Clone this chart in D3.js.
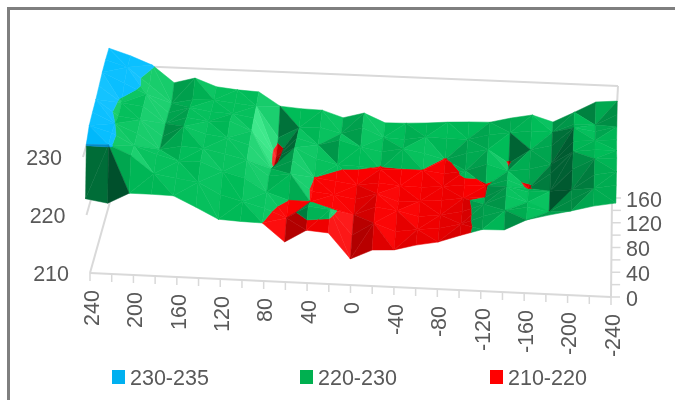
<!DOCTYPE html>
<html><head><meta charset="utf-8">
<script src="https://cdn.jsdelivr.net/npm/d3@7"></script>
<style>html,body{margin:0;padding:0;background:#fff}svg{display:block;filter:blur(0.45px)}text{font-family:"Liberation Sans",Arial,sans-serif;fill:#595959}</style>
</head><body><svg id="c" width="675" height="400"></svg>
<script>
// X categories (one surface column each), Y categories (position along each column)
const xCategories = d3.range(240, -241, -20);
const yCategories = d3.range(0, 161, 20);
const xTickLabels = [240,200,160,120,80,40,0,-40,-80,-120,-160,-200,-240];
const yTickLabels = [0,40,80,120,160];
const zTickLabels = [210,220,230];
const bands = ["210-220","220-230","230-235"];
// surface heights: one array per x category, values for y = 0,20,...,160
const z240  = [222.8,230.2,231.5,231.8,232,232.4,232.8,233,233];
const z220  = [222.2,230.3,230.4,230.0,229.3,229.6,231,231.8,231.8];
const z200  = [224.1,228.6,228.3,228.4,228.8,229.1,229.2,228.8,230.3];
const z180  = [224.1,225.6,227,225.8,226,226.2,226.1,225.7,227.3];
const z160  = [224,225,226,226.5,228,227.5,227.2,226.5,228.3];
const z140  = [222.2,224.5,226,226.3,226.8,227,226.6,226.6,226.9];
const z120  = [220.3,222.5,224.5,225.5,226.3,227.2,226.4,226.2,226.5];
const z100  = [220.1,221.5,223.5,224.6,225.2,225.6,225.8,225.8,226.3];
const z80   = [220.0,220.5,221.2,222,221.2,219.4,218.9,220.4,223.9];
const z60   = [216.9,219,220,222.5,222.8,223,222.6,222.3,223.6];
const z40   = [219.1,221.2,219.9,219.6,220.0,221.2,221.5,222.5,223.5];
const z20   = [218.8,220.8,219,219.2,219.5,220.3,222.5,221.6,222.3];
const z0    = [214.5,216.5,218,218.6,219,220.2,221.5,222.8,223.3];
const zm20  = [216.2,218.8,219.5,219.7,219.5,219.8,220.8,221.2,221.7];
const zm40  = [216.4,217.5,219,218.5,219.2,219.95,221.5,221,221.8];
const zm60  = [217.4,218,218.2,218.8,219.1,219.95,220.8,221.6,222.0];
const zm80  = [218.1,218.4,218.6,219.1,219.4,219.5,219.9,221.5,222.3];
const zm100 = [219.4,219.3,219.4,219.6,219.8,220.2,221.2,221.5,222.5];
const zm120 = [220.6,220.8,220.8,219.95,219.8,221.5,222,222.5,222.6];
const zm140 = [220.7,222,222.5,222,221,220.5,219.7,223,223.5];
const zm160 = [222.6,222.7,221.5,221.2,219.7,221,222.3,223.5,224.2];
const zm180 = [223.6,222.1,219.8,221.5,222.5,222,223.2,223.4,223.1];
const zm200 = [224.5,224.3,224,225.5,226.5,226.2,226.5,225,225];
const zm220 = [225.5,226.5,226.8,227.5,227,226.5,226,225,227];
const zm240 = [226.2,227.2,227.5,227.8,227,226.8,227,227,227.3];
const surface = [z240,z220,z200,z180,z160,z140,z120,z100,z80,z60,z40,z20,z0,zm20,zm40,zm60,zm80,zm100,zm120,zm140,zm160,zm180,zm200,zm220,zm240];

const svg = d3.select("#c");
// 3D projection built from d3 scales
const uS = d3.scaleLinear().domain([240,-240]).range([0,1]);
const vS = d3.scaleLinear().domain([0,160]).range([0,1]);
const fx = d3.scaleLinear().domain([0,1]).range([90,611]);   // front floor edge x
const bx = d3.scaleLinear().domain([0,1]).range([117,612]);  // back floor edge x
const fy = d3.scaleLinear().domain([0,1]).range([273,297]);
const by = d3.scaleLinear().domain([0,1]).range([177,198]);
const kS = d3.scaleLinear().domain([0,1]).range([5.8,5.6]);
const leanS = d3.scaleLinear().domain([0,1]).range([-0.35,0.3]);
function project(x,y,z){
  const u=uS(x), v=vS(y), h=z-210;
  return [fx(u)*(1-v)+bx(u)*v+leanS(u)*h, fy(u)*(1-v)+by(u)*v-kS(v)*h];
}
const line = d3.line();
const gridColor="#d9d9d9";
function seg(a,b,w){svg.append("path").attr("d",line([a,b])).attr("fill","none").attr("stroke",gridColor).attr("stroke-width",w||2);}

// frame
svg.append("path").attr("d",line([[8.5,400],[8.5,8.5],[675,8.5]])).attr("fill","none").attr("stroke","#7f7f7f").attr("stroke-width",3);

// walls and floor
zTickLabels.forEach(z=>seg(project(240,0,z),project(240,160,z)));
zTickLabels.forEach(z=>seg(project(240,160,z),project(-240,160,z)));
seg(project(240,0,210),project(-240,0,210));
seg(project(-240,0,210),project(-240,160,210));
seg(project(-240,160,210),project(-240,160,230));
xCategories.forEach(x=>{const p=project(x,0,210); seg(p,[p[0],p[1]+8],1.5);});
yCategories.forEach(y=>{const p=project(-240,y,210); seg(p,[p[0]+9,p[1]],1.5);});

// surface
const bandDefs=[
 {lo:-Infinity,hi:220,col:d3.scaleLinear().domain([0.6,1,1.3]).range(["#800000","#fa0000","#ff3030"])},
 {lo:220,hi:230,col:d3.scaleLinear().domain([0.6,1,1.3]).range(["#00502c","#00bc58","#3fe88c"])},
 {lo:230,hi:Infinity,col:d3.scaleLinear().domain([0.6,1,1.3]).range(["#0078b8","#00bcff","#30ccff"])}
];
function clip(poly,z,keepAbove){
  const out=[];
  poly.forEach((p,k)=>{
    const q=poly[(k+1)%poly.length];
    const pin=keepAbove?p[2]>=z:p[2]<=z, qin=keepAbove?q[2]>=z:q[2]<=z;
    if(pin) out.push(p);
    if(pin!==qin){const t=(z-p[2])/(q[2]-p[2]); out.push([p[0]+t*(q[0]-p[0]),p[1]+t*(q[1]-p[1]),z]);}
  });
  return out;
}
const g=svg.append("g");
function tri(a,b,c){
  // height gradient along columns/rows gives the facet shade
  const d1=[b[0]-a[0],b[1]-a[1],b[2]-a[2]], d2=[c[0]-a[0],c[1]-a[1],c[2]-a[2]];
  const nx=d1[1]*d2[2]-d1[2]*d2[1], ny=d1[2]*d2[0]-d1[0]*d2[2], nz=d1[0]*d2[1]-d1[1]*d2[0];
  const gx=-nx/nz*20, gy=-ny/nz*20; // height change per grid step (x runs right-to-left)
  const f=Math.max(0.6,Math.min(1.3,1+(gx>0?0.045:0.085)*gx-0.045*Math.max(0,Math.abs(gy)-1)));
  bandDefs.forEach(B=>{
    let poly=[a,b,c];
    if(B.lo>-Infinity) poly=clip(poly,B.lo,true);
    if(poly.length&&B.hi<Infinity) poly=clip(poly,B.hi,false);
    if(poly.length<3) return;
    const pts=poly.map(p=>project(p[0],p[1],p[2]));
    const col=B.col(f);
    g.append("path").attr("d",line(pts)+"Z").attr("fill",col).attr("stroke",col).attr("stroke-width",0.5);
  });
}
for(let j=yCategories.length-2;j>=0;j--){
  for(let i=0;i<xCategories.length-1;i++){
    const P=(c,r)=>[xCategories[c],yCategories[r],surface[c][r]];
    const A=P(i,j),B=P(i+1,j),C=P(i+1,j+1),D=P(i,j+1);
    if((i+j)%2===0){tri(A,C,D);tri(A,B,C);} else {tri(D,B,C);tri(A,B,D);}
  }
}

// axis labels
const fs=21.5;
zTickLabels.forEach(z=>{const p=project(240,0,z);
  svg.append("text").attr("x",p[0]-21).attr("y",p[1]).attr("dy","0.36em").attr("text-anchor","end").attr("font-size",fs).text(z);});
yTickLabels.forEach(y=>{const p=project(-240,y,210);
  svg.append("text").attr("x",626).attr("y",p[1]+1).attr("dy","0.36em").attr("font-size",fs).text(y);});
xTickLabels.forEach(x=>{const p=project(x,0,210);
  svg.append("text").attr("transform",`translate(${p[0]+1},${p[1]+17}) rotate(-90)`).attr("dy","0.36em").attr("text-anchor","end").attr("font-size",fs).text(x);});

// legend
const legend=[{t:bands[2],c:"#00b0f0",x:112},{t:bands[1],c:"#00b050",x:300},{t:bands[0],c:"#ff0000",x:490}];
legend.forEach(L=>{
  svg.append("rect").attr("x",L.x).attr("y",370).attr("width",13).attr("height",14).attr("fill",L.c);
  svg.append("text").attr("x",L.x+18).attr("y",377).attr("dy","0.36em").attr("font-size",fs).text(L.t);
});
</script></body></html>
